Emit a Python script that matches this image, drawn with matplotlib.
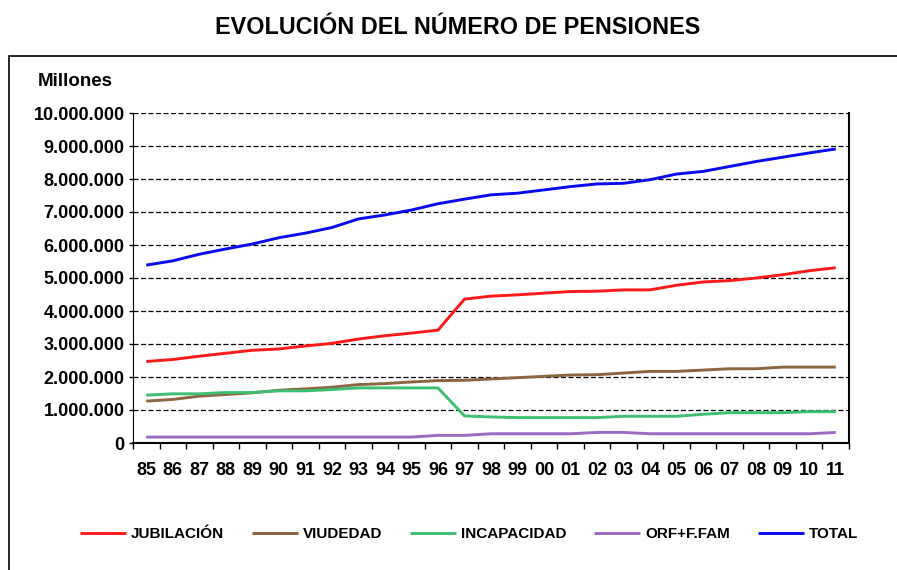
import matplotlib
matplotlib.use("Agg")
import matplotlib.pyplot as plt
from matplotlib.patches import Rectangle
from matplotlib.ticker import FuncFormatter, MultipleLocator, FixedLocator
import numpy as np

plt.rcParams['font.family'] = ['Liberation Sans', 'DejaVu Sans']
plt.rcParams['font.weight'] = 'bold'

# years 1985-2011 (two digit labels)
years = ['85', '86', '87', '88', '89', '90', '91', '92', '93', '94', '95', '96', '97', '98',
         '99', '00', '01', '02', '03', '04', '05', '06', '07', '08', '09', '10', '11']

# number of pensions
jubilacion = [2470000, 2530000, 2630000, 2720000, 2810000, 2850000, 2940000, 3020000, 3150000,
              3250000, 3330000, 3420000, 4360000, 4450000, 4490000, 4540000, 4590000, 4600000,
              4640000, 4640000, 4780000, 4880000, 4920000, 5000000, 5100000, 5220000, 5310000]
viudedad = [1270000, 1320000, 1420000, 1470000, 1520000, 1600000, 1640000, 1690000, 1770000,
            1800000, 1850000, 1890000, 1900000, 1940000, 1980000, 2020000, 2060000, 2070000,
            2120000, 2170000, 2170000, 2210000, 2250000, 2250000, 2300000, 2300000, 2300000]
incapacidad = [1450000, 1490000, 1490000, 1530000, 1530000, 1580000, 1580000, 1620000, 1670000,
               1670000, 1670000, 1670000, 820000, 790000, 770000, 770000, 770000, 770000,
               810000, 810000, 810000, 870000, 920000, 920000, 920000, 950000, 950000]
orf_fam = [180000, 180000, 180000, 180000, 180000, 180000, 180000, 180000, 180000,
           180000, 180000, 230000, 230000, 280000, 280000, 280000, 280000, 320000,
           320000, 280000, 280000, 280000, 280000, 280000, 280000, 280000, 320000]
total = [5390000, 5520000, 5720000, 5880000, 6030000, 6220000, 6360000, 6530000, 6790000,
         6910000, 7060000, 7250000, 7390000, 7520000, 7570000, 7670000, 7770000, 7850000,
         7870000, 7980000, 8150000, 8230000, 8380000, 8530000, 8660000, 8790000, 8910000]

series = [
    ('JUBILACIÓN', jubilacion, '#FF1A1A'),
    ('VIUDEDAD', viudedad, '#8C6440'),
    ('INCAPACIDAD', incapacidad, '#3DBF72'),
    ('ORF+F.FAM', orf_fam, '#9B6BC4'),
    ('TOTAL', total, '#0A0AF0'),
]

W, H = 897, 570
fig = plt.figure(figsize=(W / 100, H / 100), dpi=100)

# outer frame (runs off the right and bottom edge)
fig.patches.append(Rectangle((9 / W, -0.2), 1.2, 0.2 + 1 - 56 / H, transform=fig.transFigure,
                             fill=False, edgecolor='black', linewidth=1.2, zorder=0))

fig.text(458 / W, 1 - 28 / H, 'EVOLUCIÓN DEL NÚMERO DE PENSIONES', ha='center', va='center',
         fontsize=16.8, fontweight='bold')
fig.text(75 / W, 1 - 82 / H, 'Millones', ha='center', va='center', fontsize=13.5, fontweight='bold')

ax = fig.add_axes([133 / W, 1 - 443 / H, (849 - 133) / W, (443 - 113) / H])

x = np.arange(len(years))
for name, vals, color in series:
    ax.plot(x, vals, color=color, linewidth=2.1, label=name, solid_capstyle='butt')

ax.set_xlim(-0.5, len(years) - 0.5)
ax.set_ylim(0, 10000000)

ax.yaxis.set_major_locator(MultipleLocator(1000000))
ax.yaxis.set_major_formatter(FuncFormatter(lambda v, p: f"{int(v):,}".replace(',', '.')))
ax.set_xticks(x)
ax.set_xticklabels(years)
ax.xaxis.set_minor_locator(FixedLocator(np.arange(-0.5, len(years), 1.0)))

ax.tick_params(axis='x', which='major', length=0, pad=14, labelsize=13)
ax.tick_params(axis='x', which='minor', length=4, width=1, direction='out')
ax.tick_params(axis='y', length=3, width=1, pad=3, labelsize=13)
for lab in ax.get_xticklabels() + ax.get_yticklabels():
    lab.set_fontweight('bold')

ax.grid(axis='y', color='black', linestyle=(0, (4, 2)), linewidth=0.9)
ax.set_axisbelow(True)
ax.spines['top'].set_visible(False)
ax.spines['left'].set_linewidth(0.8)
ax.spines['right'].set_linewidth(1.5)
ax.spines['bottom'].set_linewidth(1.5)

fig.legend(loc='center', bbox_to_anchor=(469 / W, 1 - 534 / H), ncol=5, frameon=False,
           handlelength=3.0, handletextpad=0.33, columnspacing=1.83,
           prop={'weight': 'bold', 'size': 11})

fig.savefig('out.png', dpi=100)
